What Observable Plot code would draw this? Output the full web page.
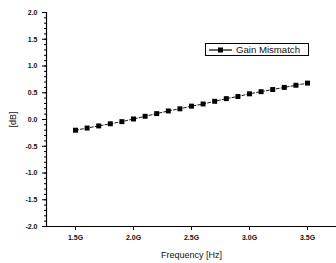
<!DOCTYPE html>
<html>
<head>
<meta charset="utf-8">
<script src="https://cdn.jsdelivr.net/npm/d3@7"></script>
<script src="https://cdn.jsdelivr.net/npm/@observablehq/plot@0.6"></script>
<style>
  html, body { margin: 0; padding: 0; background: #fff; }
  #wrap { position: relative; width: 336px; height: 263px; font-family: "Liberation Sans", Arial, sans-serif; }
  #legend { position: absolute; left: 205px; top: 43px; width: 102px; height: 11px; border: 1px solid #000; background: #fff;
            display: flex; align-items: center; font-size: 9.6px; color: #111; box-sizing: content-box; white-space: nowrap; }
  #legend svg { margin: 0 3px 0 2px; }
</style>
</head>
<body>
<div id="wrap"></div>
<script>
const freq = [1.5, 1.6, 1.7, 1.8, 1.9, 2.0, 2.1, 2.2, 2.3, 2.4, 2.5, 2.6, 2.7, 2.8, 2.9, 3.0, 3.1, 3.2, 3.3, 3.4, 3.5];
const gainMismatch = [-0.20, -0.16, -0.12, -0.08, -0.04, 0.01, 0.06, 0.11, 0.16, 0.20, 0.25, 0.29, 0.34, 0.39, 0.43, 0.48, 0.52, 0.56, 0.60, 0.64, 0.68];
const xTicks = [1.5, 2.0, 2.5, 3.0, 3.5];
const yTicks = [-2.0, -1.5, -1.0, -0.5, 0.0, 0.5, 1.0, 1.5, 2.0];
const yMinor = d3.range(-20, 21).map(v => v / 10);
const xDomain = [1.25, 3.75];
const yDomain = [-2, 2];
const seriesName = "Gain Mismatch";
const xLabel = "Frequency [Hz]";
const yLabel = "[dB]";

const data = freq.map((f, i) => ({f, v: gainMismatch[i]}));

const marks = [
  Plot.ruleX([xDomain[0]], {stroke: "#000", strokeWidth: 1.2}),
  Plot.ruleY([yDomain[0]], {stroke: "#000", strokeWidth: 1.2}),
  Plot.axisY(yMinor, {tickSize: 2, tickFormat: () => "", label: null, stroke: "#000"}),
  Plot.axisY(yTicks, {tickSize: 4, tickFormat: d => d.toFixed(1), label: yLabel, labelAnchor: "center",
                      labelOffset: 37, labelArrow: false, stroke: "#000", fill: "#111", fontWeight: "bold"}),
  Plot.axisX(xTicks, {tickSize: 4, tickFormat: d => d.toFixed(1) + "G", label: xLabel, labelAnchor: "center",
                      labelOffset: 31, labelArrow: false, stroke: "#000", fill: "#111", fontWeight: "bold"}),
  Plot.line(data, {x: "f", y: "v", stroke: "#000", strokeWidth: 0.9, strokeDasharray: "3,2"}),
  Plot.dot(data, {x: "f", y: "v", symbol: "square", r: 2.8, fill: "#000", stroke: "none"})
];

const chart = Plot.plot({
  width: 336,
  height: 263,
  marginLeft: 46,
  marginRight: 0,
  marginTop: 12,
  marginBottom: 37,
  style: {fontFamily: "'Liberation Sans', Arial, sans-serif", fontSize: "7px", color: "#111", background: "#fff"},
  x: {domain: xDomain},
  y: {domain: yDomain},
  marks
});
chart.querySelectorAll("[aria-label='x-axis label'], [aria-label='y-axis label']").forEach(g => {
  g.setAttribute("font-size", "9px");
  g.setAttribute("font-weight", "normal");
});
document.getElementById("wrap").appendChild(chart);

const leg = document.createElement("div");
leg.id = "legend";
leg.innerHTML = `<svg width="25" height="8"><line x1="1" x2="24" y1="4" y2="4" stroke="#000" stroke-width="1.2"/><rect x="10" y="1.5" width="5" height="5" fill="#000"/></svg><span>${seriesName}</span>`;
document.getElementById("wrap").appendChild(leg);
</script>
</body>
</html>
